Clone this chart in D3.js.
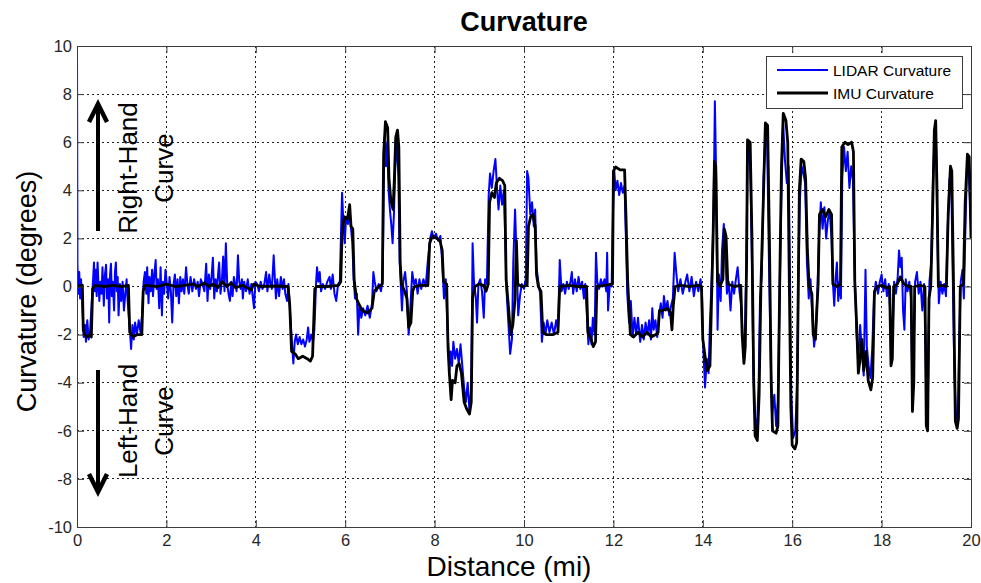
<!DOCTYPE html>
<html><head><meta charset="utf-8">
<script src="https://cdn.jsdelivr.net/npm/d3@7/dist/d3.min.js"></script>
<style>
body{margin:0;background:#fff}
svg{display:block}
text{font-family:"Liberation Sans",Arial,Helvetica,sans-serif}
</style>
</head><body>
<svg id="chart" width="981" height="583"></svg>
<script>
// ---------- data ----------
const chartTitle = "Curvature";
const xLabel = "Distance (mi)";
const yLabel = "Curvature (degrees)";
const xTicks = [0,2,4,6,8,10,12,14,16,18,20];
const yTicks = [-10,-8,-6,-4,-2,0,2,4,6,8,10];
const seriesNames = ["LIDAR Curvature","IMU Curvature"];
const annotUp = ["Right-Hand","Curve"];
const annotDown = ["Left-Hand","Curve"];

// IMU curvature [distance (mi), curvature (deg)]
const imu = [
[0,0],[0.12,0.05],[0.14,-1.8],[0.17,-2.0],[0.22,-2.1],[0.28,-2.0],[0.32,-2.1],[0.35,-0.1],[0.4,0.05],[0.6,0],[0.8,0.05],[1.0,0],[1.15,0.05],[1.18,-1.9],[1.25,-2.1],[1.35,-2.0],[1.45,-2.0],[1.48,-0.2],[1.52,0.05],[1.8,0],[2.0,0.1],[2.2,0],[2.4,0.05],[2.6,0.1],[2.7,0],[2.85,0.15],[2.95,0],[3.05,0.1],[3.15,-0.05],[3.25,0.2],[3.35,0],[3.45,0.15],[3.55,-0.05],[3.7,0.05],[3.9,-0.15],[3.95,0.1],[4.1,0],[4.4,0.02],[4.72,0],[4.76,-0.8],[4.8,-2.7],[4.88,-2.8],[4.95,-3.0],[5.05,-2.9],[5.15,-3.0],[5.22,-3.1],[5.27,-2.9],[5.32,-0.1],[5.36,0],[5.6,0],[5.85,0.05],[5.9,0.2],[5.93,2.2],[5.98,2.9],[6.05,2.8],[6.1,3.4],[6.13,2.5],[6.17,2.4],[6.2,0.3],[6.25,-0.5],[6.3,-0.7],[6.38,-1.0],[6.5,-1.1],[6.6,-0.9],[6.65,-0.2],[6.75,0],[6.83,0.1],[6.86,5.5],[6.9,6.85],[6.95,6.6],[6.98,4.5],[7.02,3.6],[7.07,3.2],[7.1,4.5],[7.13,6.2],[7.17,6.5],[7.2,5.8],[7.23,1.0],[7.26,0.1],[7.33,-0.2],[7.38,-0.5],[7.42,-1.7],[7.47,-1.5],[7.51,-0.2],[7.55,0],[7.7,0.05],[7.85,0.05],[7.89,1.8],[7.95,2.1],[8.05,2.0],[8.12,1.9],[8.17,1.5],[8.2,0.2],[8.27,0.1],[8.3,-2.5],[8.33,-3.6],[8.37,-4.7],[8.4,-3.9],[8.46,-4.0],[8.5,-3.3],[8.55,-3.2],[8.6,-3.6],[8.66,-4.8],[8.72,-5.1],[8.78,-5.3],[8.82,-4.8],[8.85,-0.5],[8.9,0],[9.0,0.1],[9.1,0.05],[9.15,-0.2],[9.2,0.1],[9.23,3.5],[9.28,3.9],[9.34,3.7],[9.38,4.3],[9.45,4.5],[9.52,4.4],[9.57,4.2],[9.6,0.3],[9.65,-0.8],[9.7,-2.0],[9.75,-1.6],[9.8,-0.5],[9.83,1.9],[9.86,0.1],[9.95,0],[10.07,0.05],[10.1,2.5],[10.15,2.9],[10.2,3.0],[10.25,2.5],[10.28,0.5],[10.32,0],[10.38,-0.2],[10.42,-1.9],[10.5,-2.0],[10.65,-2.0],[10.76,-1.9],[10.8,0],[11.0,0.05],[11.2,0],[11.4,0],[11.43,-1.9],[11.5,-2.2],[11.55,-2.5],[11.6,-2.3],[11.63,0],[11.8,0.05],[11.98,0.1],[12.0,4.8],[12.05,4.97],[12.15,4.85],[12.25,4.85],[12.28,3.0],[12.32,0.2],[12.38,-2.0],[12.45,-2.1],[12.55,-1.9],[12.65,-2.1],[12.75,-1.9],[12.85,-2.1],[12.95,-2.0],[13.0,-1.9],[13.03,-1.0],[13.1,-1.0],[13.2,-0.9],[13.28,-1.1],[13.31,-1.8],[13.34,-0.8],[13.38,0],[13.5,0.05],[13.7,0],[13.9,0.05],[13.97,0],[14.0,-2.2],[14.05,-2.9],[14.1,-3.5],[14.16,-3.3],[14.2,-0.2],[14.23,2.0],[14.26,5.2],[14.29,5.0],[14.33,0.2],[14.38,0],[14.45,0.3],[14.48,2.4],[14.52,2.1],[14.56,0.1],[14.7,0],[14.85,0.05],[14.88,-2.0],[14.92,-3.2],[14.95,-2.5],[14.98,1.0],[15.0,6.1],[15.06,6.0],[15.1,2.0],[15.14,-4.0],[15.17,-6.2],[15.22,-6.4],[15.26,-4.5],[15.3,0],[15.36,4.0],[15.4,6.8],[15.45,6.7],[15.49,2.0],[15.53,-4.0],[15.56,-6.0],[15.64,-6.1],[15.68,-5.8],[15.72,0],[15.76,5.0],[15.8,7.2],[15.86,6.9],[15.9,6.0],[15.93,1.0],[15.97,-5.0],[16.0,-6.6],[16.06,-6.75],[16.1,-6.5],[16.13,-1.0],[16.16,4.0],[16.2,5.3],[16.26,5.2],[16.3,4.5],[16.34,1.5],[16.38,0],[16.44,-0.3],[16.47,-2.0],[16.52,-2.2],[16.55,-1.0],[16.58,0.1],[16.61,3.0],[16.68,3.2],[16.75,2.9],[16.82,3.2],[16.88,3.0],[16.91,0.1],[17.0,0],[17.08,0.1],[17.11,5.8],[17.18,6.0],[17.25,5.9],[17.33,6.0],[17.37,5.6],[17.4,0.2],[17.44,-1.5],[17.48,-3.6],[17.52,-3.0],[17.56,-2.2],[17.6,-3.5],[17.65,-2.7],[17.7,-3.9],[17.76,-4.3],[17.8,-3.8],[17.84,-0.2],[17.9,0],[18.0,0.05],[18.1,-0.05],[18.18,0],[18.21,-3.3],[18.24,-3.0],[18.27,0],[18.35,0.1],[18.42,0.4],[18.5,0.1],[18.6,0],[18.66,0],[18.69,-5.2],[18.72,-4.0],[18.74,0],[18.85,0.05],[18.97,0],[19.0,-5.8],[19.03,-6.0],[19.06,-0.5],[19.1,0],[19.14,3.0],[19.18,6.5],[19.21,6.9],[19.24,4.0],[19.27,0],[19.35,0.05],[19.45,0],[19.49,3.0],[19.54,5.0],[19.57,4.8],[19.61,0],[19.65,-5.6],[19.69,-5.9],[19.72,-5.5],[19.76,0],[19.83,0.1],[19.87,3.5],[19.92,5.5],[19.96,5.4],[20,2.0]
];

// LIDAR curvature [distance (mi), curvature (deg)]
const lidar = [
[0,-10],[0,10],[0.01,0.9],[0.03,-0.3],[0.05,0.6],[0.07,-0.5],[0.09,0.3],[0.11,-0.4],[0.13,-1.2],[0.15,-2.1],[0.18,-1.6],[0.2,-2.3],[0.23,-1.4],[0.26,-2.2],[0.29,-1.9],[0.32,-1.0],[0.34,-0.3],[0.36,0.3],[0.38,1.0],[0.4,-0.2],[0.42,0.7],[0.44,-0.4],[0.46,1.0],[0.48,0.1],[0.5,-0.6],[0.52,0.2],[0.55,-0.3],[0.57,0.8],[0.6,-0.8],[0.62,0.4],[0.65,0.9],[0.67,-0.5],[0.7,0.3],[0.72,-1.5],[0.74,0.5],[0.76,0.95],[0.78,-0.4],[0.8,0.2],[0.83,-1.0],[0.85,0.6],[0.87,1.0],[0.89,-0.2],[0.91,0.4],[0.93,-1.2],[0.96,0.1],[0.99,-0.6],[1.02,0.2],[1.05,-1.0],[1.08,-0.3],[1.11,0.3],[1.13,-0.5],[1.16,-1.3],[1.19,-2.0],[1.21,-2.6],[1.24,-1.6],[1.27,-2.2],[1.3,-1.5],[1.34,-2.0],[1.38,-1.4],[1.42,-1.9],[1.46,-1.1],[1.49,0.2],[1.52,0.6],[1.55,-0.3],[1.57,0.8],[1.6,-0.7],[1.62,0.4],[1.65,-0.2],[1.68,0.7],[1.7,-0.4],[1.73,0.5],[1.76,1.1],[1.78,-0.1],[1.81,0.3],[1.84,-0.9],[1.87,0.8],[1.9,-1.2],[1.92,0.2],[1.95,-0.3],[1.98,0.7],[2.01,0.1],[2.04,-0.5],[2.07,0.4],[2.1,-0.2],[2.13,-1.5],[2.16,0.1],[2.19,0.5],[2.22,-0.4],[2.25,0.3],[2.28,-0.7],[2.31,0.4],[2.34,-0.2],[2.37,0.3],[2.4,-0.3],[2.44,0.8],[2.47,0.1],[2.5,-0.3],[2.54,0.4],[2.58,-0.2],[2.62,0.3],[2.66,-0.1],[2.7,0.2],[2.73,-0.4],[2.77,0.3],[2.81,0.1],[2.85,-0.2],[2.89,0.95],[2.92,-0.6],[2.95,0.5],[2.98,-0.1],[3.01,0.4],[3.04,1.2],[3.07,-0.5],[3.1,0.3],[3.13,-0.2],[3.16,0.6],[3.18,1.0],[3.21,-0.3],[3.24,0.2],[3.27,1.25],[3.3,-0.2],[3.33,1.8],[3.36,0.1],[3.39,-0.3],[3.42,-0.6],[3.45,0.2],[3.48,-0.4],[3.51,0.4],[3.54,0.1],[3.57,-0.2],[3.6,1.3],[3.63,0.2],[3.66,-0.1],[3.69,0.3],[3.71,-0.5],[3.74,0.2],[3.78,-0.2],[3.82,0.3],[3.86,-0.3],[3.9,0.1],[3.93,-0.4],[3.96,-0.9],[3.99,0.2],[4.03,0.1],[4.07,-0.2],[4.11,0.2],[4.15,-0.1],[4.19,0.1],[4.23,0.6],[4.26,-0.2],[4.3,0.5],[4.33,0.1],[4.36,-0.1],[4.4,1.3],[4.43,0.2],[4.45,-0.5],[4.48,0.3],[4.52,-0.4],[4.56,0.4],[4.6,-0.1],[4.63,0.3],[4.66,-0.3],[4.7,-0.6],[4.73,0.1],[4.75,-0.5],[4.78,-1.5],[4.81,-2.4],[4.84,-3.2],[4.87,-2.3],[4.9,-2.0],[4.94,-2.4],[4.98,-2.1],[5.02,-2.4],[5.06,-2.2],[5.1,-2.5],[5.14,-2.2],[5.17,-1.7],[5.2,-2.3],[5.24,-2.0],[5.28,-2.3],[5.31,-1.8],[5.35,0.2],[5.37,0.8],[5.4,0.2],[5.43,0.6],[5.46,-0.2],[5.5,0.1],[5.55,-0.1],[5.6,0.2],[5.65,0.4],[5.68,-0.1],[5.72,0.5],[5.76,-0.3],[5.8,-0.6],[5.84,0.1],[5.88,0.2],
[5.91,2.5],[5.93,3.9],[5.96,2.6],[5.99,1.8],[6.02,2.9],[6.06,2.6],[6.1,3.0],[6.13,2.4],[6.16,1.8],[6.19,0.3],[6.22,-0.5],[6.26,-0.3],[6.29,-2.0],[6.32,-0.8],[6.36,-1.3],[6.4,-0.9],[6.45,-1.2],[6.5,-0.8],[6.55,-1.3],[6.6,-0.7],[6.63,0.6],[6.66,0.2],[6.7,-0.2],[6.75,0.1],[6.8,-0.2],[6.84,0.3],[6.86,4.0],[6.88,6.2],[6.91,5.0],[6.94,6.0],[6.97,4.0],[7.0,3.2],[7.03,2.6],[7.06,1.8],[7.09,3.0],[7.12,5.0],[7.16,6.0],[7.19,4.5],[7.22,1.0],[7.27,-1.0],[7.3,0.2],[7.34,0.6],[7.38,-0.2],[7.42,-2.0],[7.46,-0.8],[7.5,0.6],[7.54,0.1],[7.58,0.3],[7.62,-0.3],[7.66,0.3],[7.7,-0.1],[7.75,0.3],[7.8,0.0],[7.85,1.1],[7.9,2.0],[7.94,2.3],[7.98,2.0],[8.03,2.2],[8.08,1.9],[8.13,2.1],[8.17,1.0],[8.21,-0.5],[8.25,0.3],[8.29,-1.8],[8.33,-3.5],[8.36,-2.7],[8.39,-3.3],[8.42,-2.3],[8.46,-3.0],[8.5,-2.6],[8.54,-3.2],[8.58,-2.4],[8.62,-3.3],[8.66,-4.2],[8.7,-4.8],[8.74,-4.0],[8.78,-5.2],[8.82,-4.2],[8.85,1.8],[8.88,0.2],[8.92,-0.4],[8.95,-1.5],[8.98,0.1],[9.02,0.3],[9.06,-0.2],[9.1,-1.3],[9.13,0.3],[9.17,0.1],[9.21,3.8],[9.24,4.7],[9.28,4.1],[9.32,4.8],[9.36,5.3],[9.4,4.0],[9.43,3.2],[9.47,4.2],[9.51,3.4],[9.55,4.0],[9.58,2.0],[9.61,-0.2],[9.65,-1.5],[9.69,-2.8],[9.73,-2.2],[9.76,1.0],[9.8,3.2],[9.83,1.5],[9.87,-1.2],[9.91,-0.4],[9.95,0.1],[10.0,-0.1],[10.04,0.3],[10.07,4.8],[10.1,4.5],[10.14,3.0],[10.18,3.5],[10.22,2.5],[10.25,3.2],[10.28,0.8],[10.32,0.2],[10.36,-0.3],[10.4,-2.3],[10.44,-1.5],[10.48,-2.0],[10.52,-1.4],[10.57,-1.9],[10.62,-1.5],[10.67,-2.0],[10.72,-1.4],[10.76,-1.8],[10.8,1.1],[10.84,-0.2],[10.88,0.1],[10.92,-0.3],[10.96,0.2],[11.0,-0.1],[11.04,0.2],[11.07,0.6],[11.1,-0.3],[11.14,0.3],[11.18,-0.2],[11.22,0.4],[11.26,-0.1],[11.3,0.2],[11.34,-0.5],[11.37,0.1],[11.41,-1.3],[11.44,-2.4],[11.48,-1.7],[11.51,-2.4],[11.54,-1.3],[11.58,-2.0],[11.61,1.4],[11.64,0.2],[11.68,-0.1],[11.72,0.3],[11.76,0.0],[11.8,0.3],[11.84,-0.2],[11.86,1.4],[11.88,-1.0],[11.92,0.1],[11.96,0.0],[11.99,3.0],[12.02,4.8],[12.05,4.0],[12.09,4.4],[12.13,3.8],[12.17,4.3],[12.21,3.9],[12.25,4.2],[12.28,2.0],[12.31,-0.3],[12.35,-1.5],[12.39,-0.6],[12.43,-2.1],[12.47,-1.3],[12.51,-2.0],[12.55,-1.3],[12.6,-2.3],[12.64,-1.6],[12.68,-2.2],[12.72,-1.5],[12.76,-2.0],[12.8,-1.4],[12.84,-2.2],[12.87,-0.9],[12.9,-1.8],[12.94,-1.4],[12.98,-2.1],[13.02,-1.2],[13.06,-0.7],[13.1,-1.3],[13.13,-0.4],[13.17,-1.0],[13.21,-0.6],[13.25,-1.2],[13.29,-0.8],[13.33,-0.5],[13.37,1.4],[13.41,0.5],[13.45,-0.2],[13.5,0.3],[13.55,-0.3],[13.6,0.1],[13.65,0.5],[13.7,-0.2],[13.75,0.4],[13.8,-0.4],[13.85,0.2],[13.9,-0.2],[13.95,0.3],[13.98,-0.2],[14.01,-2.5],[14.05,-4.2],[14.09,-3.0],[14.13,-3.6],[14.16,-1.5],[14.2,0.4],[14.24,3.0],[14.27,7.7],[14.3,4.5],[14.33,-1.8],[14.36,0.5],[14.4,-0.6],[14.43,1.5],[14.47,2.6],[14.51,1.0],[14.54,-0.3],[14.58,0.2],[14.62,-1.0],[14.66,0.2],[14.7,-0.3],[14.74,0.3],[14.78,0.8],[14.82,-0.2],[14.86,-0.8],[14.89,-2.0],[14.93,-3.0],[14.97,0.5],
[15.0,5.0],[15.04,6.0],[15.07,4.2],[15.1,1.0],[15.13,-3.5],[15.17,-5.5],[15.21,-6.0],[15.25,-4.0],[15.28,-0.5],[15.32,0.5],[15.36,4.5],[15.4,6.3],[15.44,6.0],[15.48,1.0],[15.52,-3.0],[15.55,-5.4],[15.6,-4.5],[15.64,-5.8],[15.68,-4.8],[15.72,-0.2],[15.76,4.0],[15.8,6.7],[15.84,5.2],[15.88,4.3],[15.92,5.0],[15.95,0.5],[15.98,-4.5],[16.02,-6.3],[16.07,-6.0],[16.11,-4.0],[16.14,0.3],[16.17,3.5],[16.21,5.0],[16.25,4.7],[16.29,4.3],[16.33,1.0],[16.37,-0.5],[16.41,0.3],[16.45,-1.2],[16.49,-2.5],[16.53,-1.8],[16.56,-0.5],[16.6,2.0],[16.64,3.5],[16.68,2.4],[16.72,3.3],[16.76,2.0],[16.8,2.8],[16.84,3.1],[16.88,2.0],[16.91,0.2],[16.94,-0.8],[16.97,0.3],[17.0,1.0],[17.03,-0.6],[17.06,0.2],[17.09,-0.5],[17.12,4.5],[17.16,5.8],[17.2,4.8],[17.24,5.6],[17.28,4.1],[17.32,5.0],[17.36,4.4],[17.4,0.5],[17.44,-2.0],[17.48,-3.0],[17.52,-1.6],[17.56,-2.7],[17.6,-3.7],[17.64,0.7],[17.67,-2.5],[17.71,-3.3],[17.75,-3.8],[17.79,-2.6],[17.83,-0.5],[17.87,0.2],[17.92,-0.3],[17.96,0.2],[18.0,0.5],[18.04,-0.2],[18.08,0.3],[18.12,-0.4],[18.16,0.1],[18.19,-1.0],[18.22,-2.6],[18.25,-1.8],[18.28,0.2],[18.32,-0.3],[18.36,0.4],[18.39,1.5],[18.42,0.8],[18.45,1.2],[18.48,-1.0],[18.51,-1.8],[18.54,0.3],[18.58,-0.2],[18.62,0.2],[18.66,-0.5],[18.69,-4.5],[18.72,-2.5],[18.75,0.2],[18.79,0.6],[18.83,-0.3],[18.87,0.2],[18.91,-1.0],[18.95,0.1],[18.98,-2.0],[19.01,-5.6],[19.04,-4.0],[19.07,0.2],[19.11,1.0],[19.15,4.5],[19.19,6.5],[19.22,5.8],[19.25,2.0],[19.28,-0.7],[19.32,0.2],[19.36,-0.3],[19.4,0.1],[19.44,-0.4],[19.48,2.5],[19.52,4.5],[19.56,4.2],[19.6,-0.5],[19.63,-3.8],[19.67,-5.5],[19.71,-5.2],[19.74,-2.0],[19.77,0.2],[19.81,0.7],[19.84,-0.5],[19.87,2.0],[19.91,5.0],[19.95,4.8],[20,2.5]
];

// ---------- layout ----------
const svg = d3.select("#chart");
const L = 77, R = 971, T = 46, B = 527;
const x = d3.scaleLinear().domain([0,20]).range([L,R]);
const y = d3.scaleLinear().domain([-10,10]).range([B,T]);
const textColor = "#262626", axisColor = "#3c3c3c";
const fmt = d => String(d);

svg.append("rect").attr("width",981).attr("height",583).attr("fill","#fff");

// grid
const grid = svg.append("g");
grid.selectAll(".gx").data(xTicks.slice(1,-1)).enter().append("line")
  .attr("x1",d=>x(d)).attr("x2",d=>x(d)).attr("y1",T).attr("y2",B);
grid.selectAll(".gy").data(yTicks.slice(1,-1)).enter().append("line")
  .attr("y1",d=>y(d)).attr("y2",d=>y(d)).attr("x1",L).attr("x2",R);
grid.selectAll("line").attr("stroke","#222").attr("stroke-width",1)
  .attr("stroke-dasharray","2,3").attr("shape-rendering","crispEdges");

// clip
svg.append("defs").append("clipPath").attr("id","clip")
  .append("rect").attr("x",L).attr("y",T).attr("width",R-L).attr("height",B-T);

const line = d3.line().x(d=>x(d[0])).y(d=>y(d[1]));
const plot = svg.append("g").attr("clip-path","url(#clip)");
plot.append("path").datum(lidar).attr("d",line).attr("fill","none")
  .attr("stroke","#0000ff").attr("stroke-width",2).attr("stroke-linejoin","round");
plot.append("path").datum(imu).attr("d",line).attr("fill","none")
  .attr("stroke","#000").attr("stroke-width",2.8).attr("stroke-linejoin","round");

// axes (inward ticks on all sides)
function styleAxis(g){
  g.select(".domain").remove();
  g.selectAll(".tick line").attr("stroke",axisColor);
  g.selectAll("text").attr("fill",textColor).attr("font-size",16.5)
   .attr("font-family",'"Liberation Sans",Arial,sans-serif');
}
svg.append("g").attr("transform",`translate(0,${B})`)
  .call(d3.axisBottom(x).tickValues(xTicks).tickSizeInner(-7).tickSizeOuter(0).tickPadding(7).tickFormat(fmt))
  .call(styleAxis);
svg.append("g").attr("transform",`translate(0,${T})`)
  .call(d3.axisTop(x).tickValues(xTicks).tickSizeInner(-7).tickSizeOuter(0).tickFormat(""))
  .call(styleAxis);
svg.append("g").attr("transform",`translate(${L},0)`)
  .call(d3.axisLeft(y).tickValues(yTicks).tickSizeInner(-7).tickSizeOuter(0).tickPadding(5).tickFormat(fmt))
  .call(styleAxis);
svg.append("g").attr("transform",`translate(${R},0)`)
  .call(d3.axisRight(y).tickValues(yTicks).tickSizeInner(-7).tickSizeOuter(0).tickFormat(""))
  .call(styleAxis);
svg.append("rect").attr("x",L).attr("y",T).attr("width",R-L).attr("height",B-T)
  .attr("fill","none").attr("stroke",axisColor).attr("stroke-width",1).attr("shape-rendering","crispEdges");
// blue data line sits on the left edge in the original
plot.append("path").datum(lidar.slice(0,2)).attr("d",line).attr("stroke","#0000ff").attr("stroke-width",2).attr("fill","none");

// title & labels
svg.append("text").attr("x",(L+R)/2).attr("y",31).attr("text-anchor","middle")
  .attr("font-size",27).attr("font-weight","bold").attr("fill","#000").text(chartTitle);
svg.append("text").attr("x",509).attr("y",576).attr("text-anchor","middle")
  .attr("font-size",28).attr("fill","#000").text(xLabel);
svg.append("text").attr("transform",`translate(36,${(T+B)/2 + 5}) rotate(-90)`).attr("text-anchor","middle")
  .attr("font-size",27).attr("fill","#000").text(yLabel);

// annotations
const ax = 98;
const arrows = [
  {y1:231, y2:104, dir:-1},
  {y1:370, y2:492, dir:1}
];
arrows.forEach(a=>{
  svg.append("line").attr("x1",ax).attr("x2",ax).attr("y1",a.y1).attr("y2",a.y2 - a.dir*2)
    .attr("stroke","#000").attr("stroke-width",4);
  const hy = a.y2 - a.dir*18;
  svg.append("path").attr("d",`M${ax-9},${hy}L${ax},${a.y2}L${ax+9},${hy}`)
    .attr("fill","none").attr("stroke","#000").attr("stroke-width",4.5).attr("stroke-linejoin","miter");
});
function vText(lines, cy){
  const xs = [137, 173];
  lines.forEach((t,i)=>{
    svg.append("text").attr("transform",`translate(${xs[i]},${cy}) rotate(-90)`)
      .attr("text-anchor","middle").attr("font-size",26).attr("fill","#000").text(t);
  });
}
vText(annotUp, 168);
vText(annotDown, 421);

// legend
const lg = svg.append("g");
lg.append("rect").attr("x",766).attr("y",56).attr("width",196).attr("height",52)
  .attr("fill","#fff").attr("stroke","#3c3c3c").attr("stroke-width",1).attr("shape-rendering","crispEdges");
const legColors = ["#0000ff","#000"];
seriesNames.forEach((n,i)=>{
  const yy = 70 + i*23;
  lg.append("line").attr("x1",777).attr("x2",828).attr("y1",yy).attr("y2",yy)
    .attr("stroke",legColors[i]).attr("stroke-width",i?2.8:2);
  lg.append("text").attr("x",833).attr("y",yy+5.5).attr("font-size",15.5).attr("fill","#000").text(n);
});
</script>
</body></html>
